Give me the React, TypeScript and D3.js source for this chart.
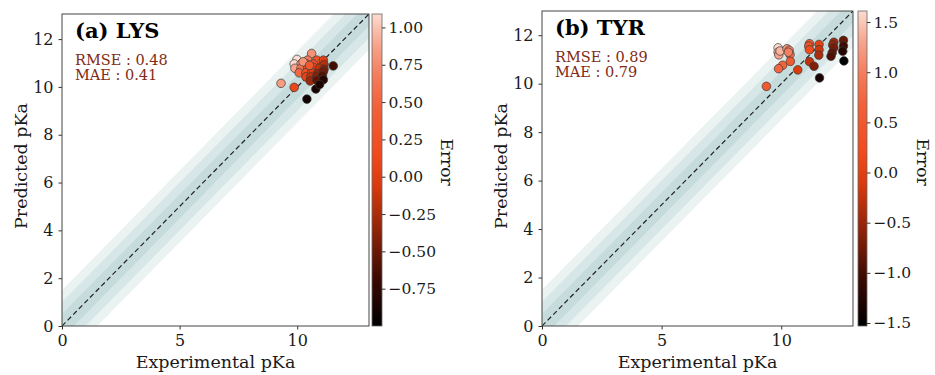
import React, { useEffect, useRef } from "react";
import * as d3 from "d3";

// (a) LYS: experimental vs predicted pKa
const lysExp = [
  10.61, 9.99, 10.44, 10.83, 11.11, 9.87, 10.16, 10.41, 10.69, 11.14, 9.9, 10.16, 10.44, 10.69, 10.93,
  11.14, 10.08, 10.37, 10.61, 10.86, 11.11, 10.37, 10.58, 10.83, 11.07, 11.53, 10.55, 10.83, 11.11,
  9.31, 9.87, 10.79, 10.41, 10.95, 10.25, 10.52,
];
const lysPred = [
  11.4, 11.15, 11.12, 11.12, 11.12, 10.96, 10.96, 10.96, 10.96, 10.94, 10.78, 10.78, 10.78, 10.82, 10.78,
  10.74, 10.59, 10.59, 10.59, 10.56, 10.64, 10.42, 10.42, 10.45, 10.47, 10.88, 10.25, 10.28, 10.3,
  10.15, 9.98, 9.91, 9.49, 10.1, 11.05, 10.9,
];

// (b) TYR
const tyrExp = [
  9.38, 9.87, 9.87, 9.9, 9.95, 10.24, 10.33, 10.37, 10.3, 10.38, 10.06, 9.89, 10.69, 11.18, 11.15, 11.18,
  11.18, 11.37, 11.58, 11.58, 11.57, 11.6, 12.2, 12.15, 12.2, 12.13, 12.08, 12.6, 12.6, 12.57, 12.62,
];
const tyrPred = [
  9.89, 11.48, 11.3, 11.19, 11.35, 11.44, 11.38, 11.2, 11.3, 10.92, 10.76, 10.62, 10.57, 11.65, 11.55, 11.4,
  10.91, 10.72, 11.62, 11.4, 11.18, 10.24, 11.71, 11.6, 11.48, 11.28, 11.13, 11.79, 11.56, 11.34, 10.94,
];

const panelTitles = ["(a) LYS", "(b) TYR"];
const rmseLabels = ["RMSE : 0.48", "RMSE : 0.89"];
const maeLabels = ["MAE : 0.41", "MAE : 0.79"];
const axisMax = [13.05, 13.0];
const errorRange = [
  [-1.0, 1.09],
  [-1.53, 1.61],
];
const xTicks = [0, 5, 10];
const yTicks = [0, 2, 4, 6, 8, 10, 12];
const cbTicks = [
  [-0.75, -0.5, -0.25, 0, 0.25, 0.5, 0.75, 1.0],
  [-1.5, -1.0, -0.5, 0, 0.5, 1.0, 1.5],
];
const cbFormats = [".2f", ".1f"];
const bandWidths = [1.5, 1.0, 0.5];

// colormap: black -> dark red -> orange-red -> pale pink
const cmapStops = [0, 0.15, 0.3, 0.45, 0.55, 0.7, 0.82, 0.92, 1];
const cmapColors = [
  "#000000", "#3a0a02", "#8c2208", "#d93a0e", "#f04a1c", "#f26038", "#f48262", "#f8ad96", "#fcdcd0",
];

const layouts = [
  { left: 62, top: 14, right: 369, bottom: 326, cbL: 372, cbR: 382, errX: 447, ylabX: 27 },
  { left: 542, top: 11, right: 853, bottom: 326, cbL: 858, cbR: 867, errX: 923, ylabX: 507 },
];

const FONT = "DejaVu Serif";

const App = () => {
  const ref = useRef<SVGSVGElement>(null);

  useEffect(() => {
    const svg = d3.select(ref.current);
    svg.selectAll("*").remove();

    const cmap = d3.scaleLinear<string>().domain(cmapStops).range(cmapColors).interpolate(d3.interpolateRgb).clamp(true);

    const datasets = [
      { exp: lysExp, pred: lysPred },
      { exp: tyrExp, pred: tyrPred },
    ];

    datasets.forEach((ds, i) => {
      const L = layouts[i];
      const max = axisMax[i];
      const x = d3.scaleLinear().domain([0, max]).range([L.left, L.right]);
      const y = d3.scaleLinear().domain([0, max]).range([L.bottom, L.top]);
      const [lo, hi] = errorRange[i];
      const norm = d3.scaleLinear().domain([lo, hi]).range([0, 1]);

      const g = svg.append("g");

      g.append("clipPath")
        .attr("id", "clip-" + i)
        .append("rect")
        .attr("x", L.left)
        .attr("y", L.top)
        .attr("width", L.right - L.left)
        .attr("height", L.bottom - L.top);

      const plot = g.append("g").attr("clip-path", "url(#clip-" + i + ")");

      // tolerance bands around y = x
      const span = [-2, max + 2];
      bandWidths.forEach((w) => {
        const area = d3
          .area<number>()
          .x((v) => x(v))
          .y0((v) => y(v - w))
          .y1((v) => y(v + w));
        plot.append("path").attr("d", area(span)).attr("fill", "#2e7d7d").attr("fill-opacity", 0.1);
      });

      plot
        .append("line")
        .attr("x1", x(0))
        .attr("y1", y(0))
        .attr("x2", x(max))
        .attr("y2", y(max))
        .attr("stroke", "#222")
        .attr("stroke-width", 1.2)
        .attr("stroke-dasharray", "5,3");

      plot
        .selectAll("circle")
        .data(ds.exp.map((e, k) => ({ e, p: ds.pred[k] })))
        .enter()
        .append("circle")
        .attr("cx", (d) => x(d.e))
        .attr("cy", (d) => y(d.p))
        .attr("r", 4.3)
        .attr("fill", (d) => cmap(norm(d.p - d.e)))
        .attr("stroke", "#3a3a3a")
        .attr("stroke-width", 0.7);

      // axes
      const xAxis = g
        .append("g")
        .attr("transform", "translate(0," + L.bottom + ")")
        .call(d3.axisBottom(x).tickValues(xTicks).tickSize(3.5).tickPadding(5).tickFormat(d3.format("d")));
      const yAxis = g
        .append("g")
        .attr("transform", "translate(" + L.left + ",0)")
        .call(d3.axisLeft(y).tickValues(yTicks).tickSize(3.5).tickPadding(5).tickFormat(d3.format("d")));
      [xAxis, yAxis].forEach((a) => {
        a.select(".domain").remove();
        a.selectAll("line").attr("stroke", "#333");
        a.selectAll("text").attr("font-family", FONT).attr("font-size", 16).attr("fill", "#1a1a1a");
      });

      g.append("rect")
        .attr("x", L.left)
        .attr("y", L.top)
        .attr("width", L.right - L.left)
        .attr("height", L.bottom - L.top)
        .attr("fill", "none")
        .attr("stroke", "#444")
        .attr("stroke-width", 1);

      // labels
      g.append("text")
        .attr("x", (L.left + L.right) / 2)
        .attr("y", 368)
        .attr("text-anchor", "middle")
        .attr("font-family", FONT)
        .attr("font-size", 17.5)
        .attr("fill", "#1a1a1a")
        .text("Experimental pKa");

      g.append("text")
        .attr("transform", "translate(" + L.ylabX + "," + 166 + ") rotate(-90)")
        .attr("text-anchor", "middle")
        .attr("font-family", FONT)
        .attr("font-size", 17.5)
        .attr("fill", "#1a1a1a")
        .text("Predicted pKa");

      g.append("text")
        .attr("x", L.left + 13)
        .attr("y", L.top + 24)
        .attr("font-family", FONT)
        .attr("font-weight", "bold")
        .attr("font-size", 21)
        .attr("fill", "#000")
        .text(panelTitles[i]);

      g.append("text")
        .attr("x", L.left + 13)
        .attr("y", L.top + 50.5)
        .attr("font-family", FONT)
        .attr("font-size", 14.5)
        .attr("fill", "#822a14")
        .text(rmseLabels[i]);

      g.append("text")
        .attr("x", L.left + 13)
        .attr("y", L.top + 65.5)
        .attr("font-family", FONT)
        .attr("font-size", 14.5)
        .attr("fill", "#822a14")
        .text(maeLabels[i]);

      // colorbar
      const gradId = "grad-" + i;
      const grad = g
        .append("linearGradient")
        .attr("id", gradId)
        .attr("x1", 0)
        .attr("y1", 1)
        .attr("x2", 0)
        .attr("y2", 0);
      d3.range(0, 1.0001, 0.05).forEach((t) => {
        grad.append("stop").attr("offset", t).attr("stop-color", cmap(t));
      });
      g.append("rect")
        .attr("x", L.cbL)
        .attr("y", L.top)
        .attr("width", L.cbR - L.cbL)
        .attr("height", L.bottom - L.top)
        .attr("fill", "url(#" + gradId + ")")
        .attr("stroke", "#666")
        .attr("stroke-width", 0.8);

      const cb = d3.scaleLinear().domain([lo, hi]).range([L.bottom, L.top]);
      const cbAxis = g
        .append("g")
        .attr("transform", "translate(" + L.cbR + ",0)")
        .call(
          d3
            .axisRight(cb)
            .tickValues(cbTicks[i])
            .tickSize(3.5)
            .tickPadding(3)
            .tickFormat(d3.format(cbFormats[i]))
        );
      cbAxis.select(".domain").remove();
      cbAxis.selectAll("line").attr("stroke", "#333");
      cbAxis.selectAll("text").attr("font-family", FONT).attr("font-size", 15.5).attr("fill", "#1a1a1a");

      g.append("text")
        .attr("transform", "translate(" + L.errX + "," + 162 + ") rotate(90)")
        .attr("text-anchor", "middle")
        .attr("dy", "0.35em")
        .attr("font-family", FONT)
        .attr("font-size", 17)
        .attr("fill", "#1a1a1a")
        .text("Error");
    });
  }, []);

  return (
    <svg
      ref={ref}
      width={935}
      height={375}
      style={{ position: "absolute", left: 0, top: 0, background: "#fff" }}
    />
  );
};

export default App;
